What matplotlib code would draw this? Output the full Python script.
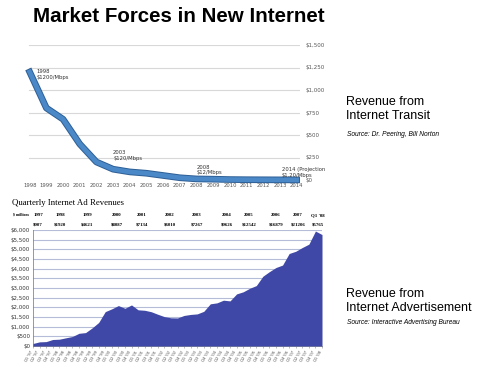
import matplotlib
matplotlib.use('Agg')
from matplotlib import pyplot as plt
import matplotlib.patheffects as pe

# transit price per Mbps (Dr. Peering / Bill Norton)
transit_years = list(range(1998, 2015))
transit_price = [1200, 800, 675, 400, 200, 120, 90, 75, 50, 25, 12, 9, 5, 3.25, 2.34, 1.57, 1.20]
transit_yticks = [0, 250, 500, 750, 1000, 1250, 1500]
transit_ylabels = ['$0', '$250', '$500', '$750', '$1,000', '$1,250', '$1,500']

# quarterly internet ad revenues, $ millions (IAB), Q1 '97 .. Q1 '08
ad_quarterly = [130, 214, 227, 336,
                351, 423, 491, 656,
                693, 934, 1217, 1777,
                1922, 2091, 1951, 2123,
                1872, 1848, 1773, 1641,
                1520, 1458, 1451, 1580,
                1632, 1660, 1793, 2182,
                2230, 2369, 2333, 2694,
                2802, 2985, 3125, 3608,
                3848, 4061, 4186, 4784,
                4899, 5094, 5267, 5946,
                5765]
ad_quarter_labels = ["Q%d '%02d" % (i % 4 + 1, (97 + i // 4) % 100) for i in range(len(ad_quarterly))]
annual_years = ['1997', '1998', '1999', '2000', '2001', '2002', '2003', '2004', '2005', '2006', '2007', "Q1 '08"]
annual_totals = ['$907', '$1920', '$4621', '$8087', '$7134', '$6010', '$7267', '$9626', '$12542', '$16879', '$21206', '$5765']
annual_x = [38, 60, 87, 117, 142, 170, 197, 227, 249, 276, 298, 318]  # header column centres (px)

W, H = 480, 369


def px(x, y):
    return x / W, 1 - y / H


fig = plt.figure(figsize=(4.8, 3.69), dpi=100)
fig.patch.set_facecolor('white')

fig.text(*px(33, 17), 'Market Forces in New Internet', fontsize=14.8, fontweight='bold',
         family='Liberation Sans', va='center', ha='left')

# ---- top: transit price ----
ax1 = fig.add_axes([18 / W, 1 - 180 / H, 282 / W, 135 / H])
ax1.set_xlim(1997.3, 2014.2)
ax1.set_ylim(0, 1500)
for v in transit_yticks[1:]:
    ax1.axhline(v, xmin=0.04, color='#d8d8d8', lw=0.8, zorder=1)
ax1.plot(transit_years, transit_price, color='#4a88c8', lw=3.4, solid_joinstyle='round',
         clip_on=False, zorder=3,
         path_effects=[pe.Stroke(linewidth=4.8, foreground='#2e5f96'), pe.Normal()])
ax1.yaxis.tick_right()
ax1.set_yticks(transit_yticks)
ax1.set_yticklabels(transit_ylabels, fontsize=4, color='#555555')
ax1.set_xticks(transit_years)
ax1.set_xticklabels([str(y) for y in transit_years], fontsize=3.8, color='#555555')
ax1.tick_params(length=0, pad=2)
ax1.tick_params(axis='y', pad=4)
for s in ax1.spines.values():
    s.set_visible(False)

notes = [(1998.4, 1230, '1998\n$1200/Mbps'), (2003.0, 330, '2003\n$120/Mbps'),
         (2008.0, 170, '2008\n$12/Mbps'), (2013.1, 140, '2014 (Projection\n$1.20/Mbps')]
for x, y, t in notes:
    ax1.text(x, y, t, fontsize=3.8, color='#333333', va='top', ha='left', linespacing=1.1)

# ---- bottom: ad revenues ----
fig.text(*px(12, 203), 'Quarterly Internet Ad Revenues', fontsize=6.3, family='Liberation Serif',
         va='center', ha='left')
fig.text(*px(13, 215), '$ millions', fontsize=2.8, family='Liberation Serif', fontweight='bold',
         va='center', ha='left')
for x, yr, tot in zip(annual_x, annual_years, annual_totals):
    fig.text(*px(x, 215), yr, fontsize=3.5, family='Liberation Serif', fontweight='bold',
             va='center', ha='center')
    fig.text(*px(x, 224), tot, fontsize=3.5, family='Liberation Serif', fontweight='bold',
             va='center', ha='center')

ax2 = fig.add_axes([33 / W, 1 - 346 / H, 289 / W, 116 / H])
xs = list(range(len(ad_quarterly)))
ax2.fill_between(xs, ad_quarterly, 0, color='#3f48a6', lw=0, zorder=3)
ax2.set_xlim(0, len(ad_quarterly) - 1)
ax2.set_ylim(0, 6000)
ax2.set_yticks(range(0, 6001, 500))
ax2.set_yticklabels(['$%s' % format(v, ',') for v in range(0, 6001, 500)], fontsize=4, color='#333333')
ax2.grid(axis='y', color='#b4bcd8', lw=0.8, zorder=1)
ax2.set_xticks(xs)
ax2.set_xticklabels(ad_quarter_labels, fontsize=2.6, rotation=60, ha='right', color='#444444')
ax2.tick_params(axis='y', length=0, pad=2)
ax2.tick_params(axis='x', length=1.5, width=0.4, color='#888888', pad=1)
for s in ['top', 'right']:
    ax2.spines[s].set_visible(False)
ax2.spines['left'].set_color('#888888')
ax2.spines['left'].set_linewidth(0.6)
ax2.spines['bottom'].set_color('#888888')
ax2.spines['bottom'].set_linewidth(0.6)

# ---- right-hand captions ----
fig.text(*px(346, 96), 'Revenue from\nInternet Transit', fontsize=9, family='Liberation Sans',
         va='top', ha='left', linespacing=1.2)
fig.text(*px(347, 134), 'Source: Dr. Peering, Bill Norton', fontsize=4.8, style='italic',
         family='Liberation Sans', va='center', ha='left')
fig.text(*px(346, 288), 'Revenue from\nInternet Advertisement', fontsize=9, family='Liberation Sans',
         va='top', ha='left', linespacing=1.2)
fig.text(*px(347, 322), 'Source: Interactive Advertising Bureau', fontsize=4.8, style='italic',
         family='Liberation Sans', va='center', ha='left')

fig.savefig('out.png', dpi=100)
